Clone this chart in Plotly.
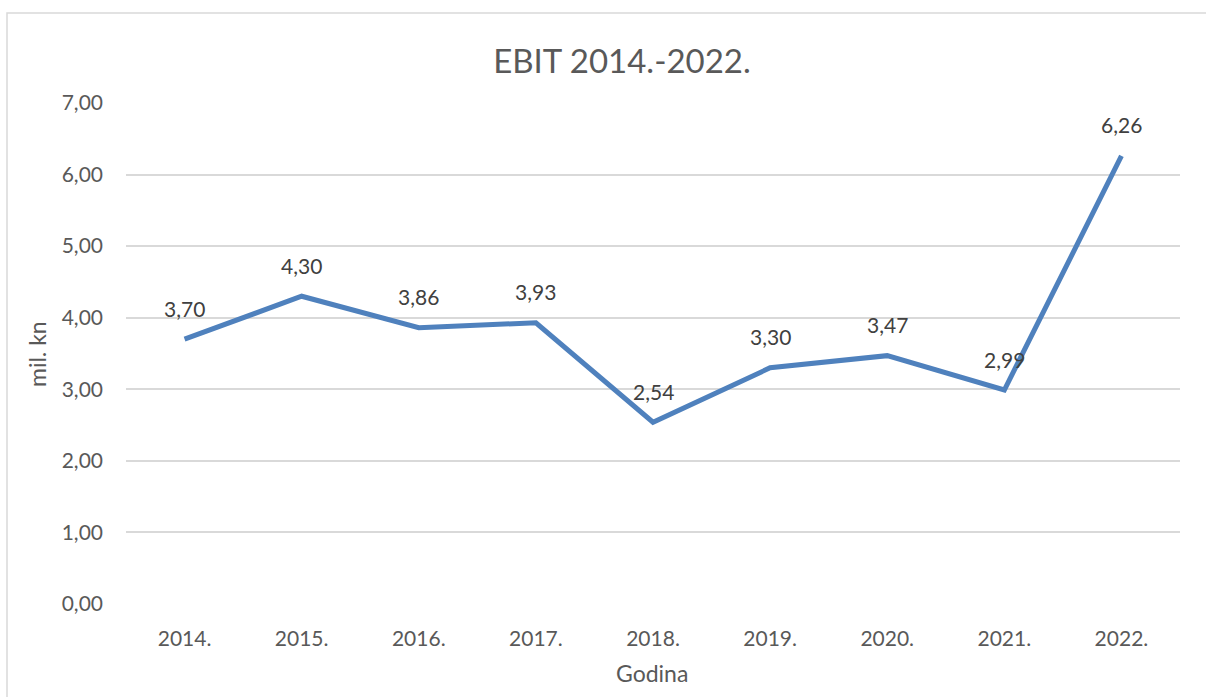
import plotly.graph_objects as go

years = ["2014.", "2015.", "2016.", "2017.", "2018.", "2019.", "2020.", "2021.", "2022."]
ebit = [3.70, 4.30, 3.86, 3.93, 2.54, 3.30, 3.47, 2.99, 6.26]
y_ticks = [0, 1, 2, 3, 4, 5, 6, 7]
y_tick_labels = ["0,00", "1,00", "2,00", "3,00", "4,00", "5,00", "6,00", "7,00"]

FONT = "Lato"
W, H = 1206, 697
ML, MR, MT, MB = 126, 26, 103, 93
PW = W - ML - MR
PH = H - MT - MB

fig = go.Figure()
fig.add_trace(go.Scatter(
    x=years, y=ebit, mode="lines",
    line=dict(color="rgb(79,129,189)", width=5),
    hoverinfo="skip", showlegend=False,
))

annotations = []
for i, v in enumerate(ebit):
    annotations.append(dict(
        x=i, y=v, xref="x", yref="y",
        text=f"{v:.2f}".replace(".", ","),
        showarrow=False, yshift=31,
        font=dict(family=FONT, size=21, color="#404040"),
    ))

annotations.append(dict(
    x=(652 - ML) / PW, y=-(673 - (MT + PH)) / PH, xref="paper", yref="paper",
    text="Godina", showarrow=False, xanchor="center", yanchor="middle",
    font=dict(family=FONT, size=23, color="#595959"),
))
annotations.append(dict(
    x=(37 - ML) / PW, y=(MT + PH - 354) / PH, xref="paper", yref="paper",
    text="mil. kn", showarrow=False, textangle=-90, xanchor="center", yanchor="middle",
    font=dict(family=FONT, size=23, color="#595959"),
))

fig.update_layout(
    width=W, height=H,
    margin=dict(l=ML, r=MR, t=MT, b=MB),
    paper_bgcolor="white", plot_bgcolor="white",
    title=dict(
        text="EBIT 2014.-2022.",
        x=622 / W, xanchor="center", xref="container",
        y=1 - 61 / H, yanchor="middle", yref="container",
        font=dict(family=FONT, size=33, color="#595959"),
    ),
    xaxis=dict(
        type="category", range=[-0.5, len(years) - 0.5],
        showgrid=False, showline=False, zeroline=False,
        ticks="", ticklabelstandoff=20,
        tickfont=dict(family=FONT, size=21, color="#595959"),
        fixedrange=True,
    ),
    yaxis=dict(
        range=[0, 7], tickvals=y_ticks, ticktext=y_tick_labels,
        showgrid=True, gridcolor="#d9d9d9", gridwidth=1.5,
        zeroline=False, showline=False, ticks="", ticklabelstandoff=22,
        tickfont=dict(family=FONT, size=21, color="#595959"),
        fixedrange=True,
    ),
    annotations=annotations,
    shapes=[dict(
        type="rect", xref="paper", yref="paper",
        x0=(7 - ML) / PW, x1=(W + 5 - ML) / PW,
        y0=-(H + 5 - MT - PH) / PH, y1=(MT + PH - 13) / PH,
        line=dict(color="#d9d9d9", width=1.5), fillcolor="rgba(0,0,0,0)",
        layer="below",
    )],
)

fig.write_html(
    "out.html",
    config={"displayModeBar": False},
    post_script="document.body.style.margin='0';document.body.style.overflow='hidden';",
)
